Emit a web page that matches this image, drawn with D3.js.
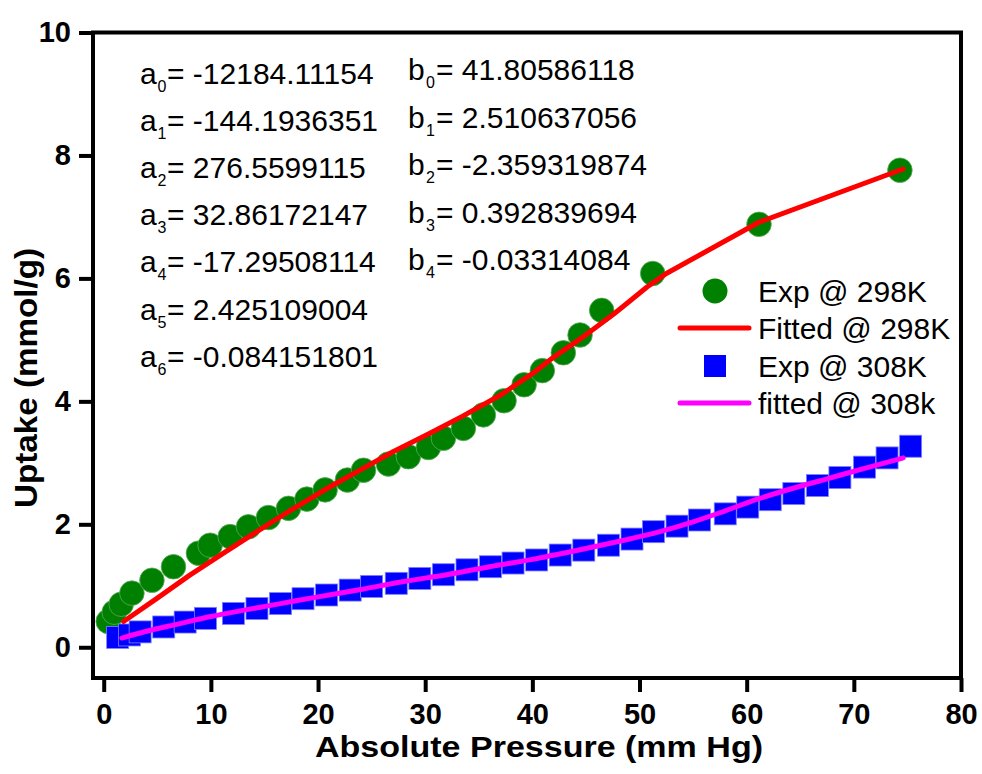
<!DOCTYPE html>
<html>
<head>
<meta charset="utf-8">
<script src="https://cdn.jsdelivr.net/npm/d3@7"></script>
<style>
  html, body { margin: 0; padding: 0; background: #fff; }
  svg { display: block; font-family: "Liberation Sans", Arial, Helvetica, sans-serif; }
</style>
</head>
<body>
<svg id="chart" width="982" height="774"></svg>
<script>
// Experimental uptake at 298 K
const expP298 = [0.42, 0.98, 1.63, 2.63, 4.50, 6.51, 8.84, 9.93, 11.80, 13.51, 15.37, 17.24, 18.96, 20.66,
  22.74, 24.24, 26.57, 28.43, 30.30, 31.70, 33.56, 35.43, 37.36, 39.23, 40.93, 42.89, 44.45, 46.47,
  51.23, 61.15, 74.30];
const expU298 = [0.42, 0.57, 0.70, 0.88, 1.09, 1.31, 1.53, 1.66, 1.80, 1.96, 2.11, 2.26, 2.41, 2.56,
  2.72, 2.88, 2.98, 3.10, 3.25, 3.40, 3.56, 3.78, 4.01, 4.27, 4.50, 4.79, 5.08, 5.48,
  6.08, 6.88, 7.76];

// Fitted curve at 298 K
const fitP298 = [1.85, 5.0, 8.0, 11.0, 14.0, 17.0, 20.7, 24.0, 27.0, 30.3, 33.5, 37.0, 40.0, 42.0,
  44.5, 47.6, 49.3, 50.7, 52.5, 61.1, 74.6];
const fitU298 = [0.42, 0.80, 1.17, 1.51, 1.85, 2.18, 2.57, 2.89, 3.18, 3.47, 3.76, 4.10, 4.45, 4.72,
  5.02, 5.42, 5.66, 5.86, 6.08, 6.91, 7.78];

// Experimental uptake at 308 K
const expP308 = [1.3, 2.4, 3.4, 5.6, 7.6, 9.5, 12.1, 14.3, 16.5, 18.6, 20.8, 23.0, 25.0, 27.3, 29.5,
  31.7, 33.9, 36.1, 38.2, 40.4, 42.6, 44.8, 47.1, 49.3, 51.3, 53.5, 55.6, 58.0, 60.1, 62.2, 64.4,
  66.6, 68.7, 71.0, 73.1, 75.3];
const expU308 = [0.16, 0.20, 0.25, 0.33, 0.41, 0.47, 0.55, 0.63, 0.71, 0.79, 0.85, 0.93, 0.99, 1.04, 1.12,
  1.18, 1.26, 1.31, 1.37, 1.42, 1.50, 1.58, 1.66, 1.76, 1.88, 1.97, 2.07, 2.17, 2.28, 2.40, 2.50,
  2.63, 2.76, 2.93, 3.08, 3.27];

// Fitted curve at 308 K
const fitP308 = [1.7, 4, 7, 10, 13, 16.5, 20, 24, 28, 32, 36, 40, 44, 48, 51.9, 55, 58, 61.2, 64, 67.5, 71, 74.6];
const fitU308 = [0.15, 0.26, 0.38, 0.50, 0.60, 0.71, 0.82, 0.94, 1.07, 1.18, 1.31, 1.43, 1.57, 1.72, 1.88,
  2.04, 2.22, 2.42, 2.57, 2.74, 2.91, 3.08];

const xTicks = [0, 10, 20, 30, 40, 50, 60, 70, 80];
const yTicks = [0, 2, 4, 6, 8, 10];

const coefA = ["-12184.11154", "-144.1936351", "276.5599115", "32.86172147", "-17.29508114", "2.425109004", "-0.084151801"];
const coefB = ["41.80586118", "2.510637056", "-2.359319874", "0.392839694", "-0.03314084"];

const legendLabels = ["Exp @ 298K", "Fitted @ 298K", "Exp @ 308K", "fitted @ 308k"];
const xLabel = "Absolute Pressure (mm Hg)";
const yLabel = "Uptake (mmol/g)";

const GREEN = "#008000", RED = "#ff0000", BLUE = "#0000ff", MAGENTA = "#ff00ff";

const svg = d3.select("#chart");
const x = d3.scaleLinear().domain([-1, 80]).range([93, 961]);
const y = d3.scaleLinear().domain([-0.5, 10]).range([678, 32.5]);

// Axes
const xAxis = svg.append("g").attr("transform", "translate(0,678)")
  .call(d3.axisBottom(x).tickValues(xTicks).tickSize(14).tickSizeOuter(0).tickPadding(11).tickFormat(d3.format("d")));
const yAxis = svg.append("g").attr("transform", "translate(93,0)")
  .call(d3.axisLeft(y).tickValues(yTicks).tickSize(14).tickSizeOuter(0).tickPadding(8).tickFormat(d3.format("d")));
[xAxis, yAxis].forEach(g => {
  g.select(".domain").remove();
  g.selectAll(".tick line").attr("stroke", "#000").attr("stroke-width", 4);
  g.selectAll(".tick text").attr("fill", "#000").style("font-size", "29px").style("font-weight", "bold")
    .style("font-family", "'Liberation Sans', Arial, sans-serif");
});

// Plot frame
svg.append("rect")
  .attr("x", x.range()[0]).attr("y", y.range()[1])
  .attr("width", x.range()[1] - x.range()[0]).attr("height", y.range()[0] - y.range()[1])
  .attr("fill", "none").attr("stroke", "#000").attr("stroke-width", 4).attr("stroke-linejoin", "miter");

// Axis titles
svg.append("text").attr("x", 539).attr("y", 757).attr("text-anchor", "middle")
  .attr("textLength", 448).attr("lengthAdjust", "spacingAndGlyphs")
  .style("font-size", "30px").style("font-weight", "bold").text(xLabel);
svg.append("text").attr("transform", "translate(37,378) rotate(-90)").attr("text-anchor", "middle")
  .attr("textLength", 260).attr("lengthAdjust", "spacingAndGlyphs")
  .style("font-size", "31px").style("font-weight", "bold").text(yLabel);

const plot = svg.append("g");

// 298 K experimental points
plot.append("g").selectAll("circle").data(d3.zip(expP298, expU298)).join("circle")
  .attr("cx", d => x(d[0])).attr("cy", d => y(d[1])).attr("r", 12.3)
  .attr("fill", GREEN).attr("stroke", "#5aa95a").attr("stroke-width", 0.8);

// 308 K experimental points
const sq = 22;
plot.append("g").selectAll("rect").data(d3.zip(expP308, expU308)).join("rect")
  .attr("x", d => x(d[0]) - sq / 2).attr("y", d => y(d[1]) - sq / 2).attr("width", sq).attr("height", sq)
  .attr("fill", BLUE).attr("stroke", "#7f7fff").attr("stroke-width", 0.8);

// Fitted curves
const line298 = d3.line().x(d => x(d[0])).y(d => y(d[1])).curve(d3.curveLinear);
const line308 = d3.line().x(d => x(d[0])).y(d => y(d[1])).curve(d3.curveMonotoneX);
plot.append("path").datum(d3.zip(fitP298, fitU298)).attr("d", line298)
  .attr("fill", "none").attr("stroke", RED).attr("stroke-width", 5).attr("stroke-linecap", "round").attr("stroke-linejoin", "round");
plot.append("path").datum(d3.zip(fitP308, fitU308)).attr("d", line308)
  .attr("fill", "none").attr("stroke", MAGENTA).attr("stroke-width", 5).attr("stroke-linecap", "round").attr("stroke-linejoin", "round");

// Coefficient annotations
function coefRows(letter, values, xStart, subX, eqX, base, step) {
  const g = svg.append("g").style("font-size", "30px").attr("fill", "#000");
  values.forEach((v, i) => {
    const by = base + i * step;
    g.append("text").attr("x", xStart).attr("y", by).text(letter);
    g.append("text").attr("x", subX).attr("y", by + 8).style("font-size", "16px").text(i);
    g.append("text").attr("x", eqX).attr("y", by).text("= " + v);
  });
}
coefRows("a", coefA, 140, 157.5, 167, 84, 47.1);
coefRows("b", coefB, 408, 426, 436, 80, 47.5);

// Legend
const lg = svg.append("g");
const legendRows = [291, 328, 366, 403];
lg.append("circle").attr("cx", 715).attr("cy", legendRows[0]).attr("r", 12.5).attr("fill", GREEN);
lg.append("line").attr("x1", 680).attr("x2", 749).attr("y1", legendRows[1]).attr("y2", legendRows[1])
  .attr("stroke", RED).attr("stroke-width", 5).attr("stroke-linecap", "round");
lg.append("rect").attr("x", 715 - 11).attr("y", legendRows[2] - 11).attr("width", 22).attr("height", 22).attr("fill", BLUE);
lg.append("line").attr("x1", 680).attr("x2", 749).attr("y1", legendRows[3]).attr("y2", legendRows[3])
  .attr("stroke", MAGENTA).attr("stroke-width", 5).attr("stroke-linecap", "round");
lg.selectAll("text").data(legendLabels).join("text")
  .attr("x", 758).attr("y", (d, i) => legendRows[i] + 11)
  .style("font-size", "30px").attr("fill", "#000").text(d => d);
</script>
</body>
</html>
